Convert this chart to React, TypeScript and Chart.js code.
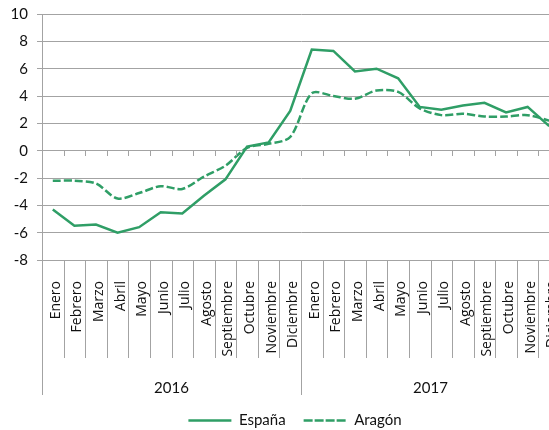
import React, { useEffect, useRef } from 'react';
import { Chart, registerables } from 'chart.js';

Chart.register(...registerables);

const months2016 = ['Enero', 'Febrero', 'Marzo', 'Abril', 'Mayo', 'Junio', 'Julio', 'Agosto', 'Septiembre', 'Octubre', 'Noviembre', 'Diciembre'];
const months2017 = ['Enero', 'Febrero', 'Marzo', 'Abril', 'Mayo', 'Junio', 'Julio', 'Agosto', 'Septiembre', 'Octubre', 'Noviembre', 'Diciembre'];
const years = ['2016', '2017'];

const espana = [-4.3, -5.5, -5.4, -6.0, -5.6, -4.5, -4.6, -3.3, -2.1, 0.3, 0.6, 2.9,
  7.4, 7.3, 5.8, 6.0, 5.3, 3.2, 3.0, 3.3, 3.5, 2.8, 3.2, 1.8];
const aragon = [-2.2, -2.2, -2.4, -3.5, -3.1, -2.6, -2.8, -1.9, -1.1, 0.2, 0.5, 1.0,
  4.2, 4.0, 3.8, 4.4, 4.3, 3.1, 2.6, 2.7, 2.5, 2.5, 2.6, 2.2];

const yMin = -8;
const yMax = 10;
const yStep = 2;

const GREEN = '#2F9E66';
const GRID = '#A3A3A3';
const TEXT = '#111111';
const FONT = 'Lato';
const MONTH_FONT = 'Open Sans';

const separators = {
  id: 'separators',
  afterDraw(chart: any) {
    const { ctx, chartArea, scales } = chart;
    const x = scales.x;
    const y = scales.y;
    const n = x.getLabels().length;
    const y0 = Math.round(y.getPixelForValue(0));
    ctx.save();
    ctx.strokeStyle = GRID;
    ctx.lineWidth = 1;
    ctx.beginPath();
    for (let i = 1; i <= n; i++) {
      const px = Math.round(x.getPixelForValue(i - 0.5)) + 0.5;
      ctx.moveTo(px, y0);
      ctx.lineTo(px, y0 + 5);
    }
    const monthBottom = x.bottom - 4;
    const yearBottom = scales.x2.bottom;
    for (let i = 0; i <= n; i++) {
      const px = Math.round(x.getPixelForValue(i - 0.5)) + 0.5;
      const isYear = i % 12 === 0;
      ctx.moveTo(px, chartArea.bottom);
      ctx.lineTo(px, isYear ? yearBottom : monthBottom);
    }
    ctx.stroke();
    ctx.restore();
  },
};

const legendShift = {
  id: 'legendShift',
  afterLayout(chart: any) {
    const lg = chart.legend;
    if (lg) {
      lg.left += 30;
    }
  },
};

export default function App() {
  const ref = useRef<HTMLCanvasElement | null>(null);
  useEffect(() => {
    if (!ref.current) return;
    const chart = new Chart(ref.current, {
      type: 'line',
      data: {
        labels: [...months2016, ...months2017],
        datasets: [
          {
            label: 'España',
            data: espana,
            borderColor: GREEN,
            backgroundColor: GREEN,
            borderWidth: 2.5,
            pointRadius: 0,
            tension: 0,
            fill: false,
          },
          {
            label: 'Aragón',
            data: aragon,
            borderColor: GREEN,
            backgroundColor: GREEN,
            borderWidth: 2.5,
            borderDash: [8, 3],
            pointRadius: 0,
            tension: 0.3,
            fill: false,
          },
        ],
      },
      options: {
        animation: false,
        responsive: true,
        maintainAspectRatio: false,
        layout: { padding: { left: 0, right: 2, top: 14, bottom: 0 } },
        plugins: {
          tooltip: { enabled: false },
          legend: {
            position: 'bottom',
            labels: {
              boxWidth: 43,
              boxHeight: 0,
              padding: 18,
              color: TEXT,
              font: { family: FONT, size: 15 },
            },
          },
        },
        scales: {
          x: {
            type: 'category',
            position: 'bottom',
            offset: true,
            weight: 0,
            grid: { display: false, drawTicks: false },
            border: { display: false },
            ticks: {
              autoSkip: false,
              maxRotation: 90,
              minRotation: 90,
              padding: 21,
              labelOffset: 3,
              color: TEXT,
              font: { family: MONTH_FONT, size: 14 },
            },
            afterFit(scale: any) {
              scale.height = 102;
              scale.paddingLeft = 0;
              scale.paddingRight = 0;
            },
          },
          x2: {
            type: 'category',
            position: 'bottom',
            labels: years,
            offset: true,
            weight: 1,
            grid: { display: false, drawTicks: false },
            border: { display: false },
            ticks: {
              padding: 17,
              color: TEXT,
              font: { family: FONT, size: 15 },
            },
            afterFit(scale: any) {
              scale.height = 33;
              scale.paddingLeft = 0;
              scale.paddingRight = 0;
            },
          },
          y: {
            min: yMin,
            max: yMax,
            grid: { color: GRID, lineWidth: 1, tickLength: 5 },
            border: { color: GRID, width: 1 },
            ticks: {
              stepSize: yStep,
              padding: 9,
              color: TEXT,
              font: { family: FONT, size: 15 },
            },
            afterFit(scale: any) {
              scale.width = 42;
              scale.paddingTop = 0;
              scale.paddingBottom = 0;
            },
          },
        },
      },
      plugins: [separators, legendShift],
    });
    return () => chart.destroy();
  }, []);

  return (
    <div style={{ position: 'fixed', left: 0, top: 0, width: 549, height: 430, overflow: 'hidden', background: '#fff' }}>
      <div style={{ position: 'absolute', left: 0, top: 0, width: 562, height: 438 }}>
        <canvas ref={ref} />
      </div>
    </div>
  );
}
